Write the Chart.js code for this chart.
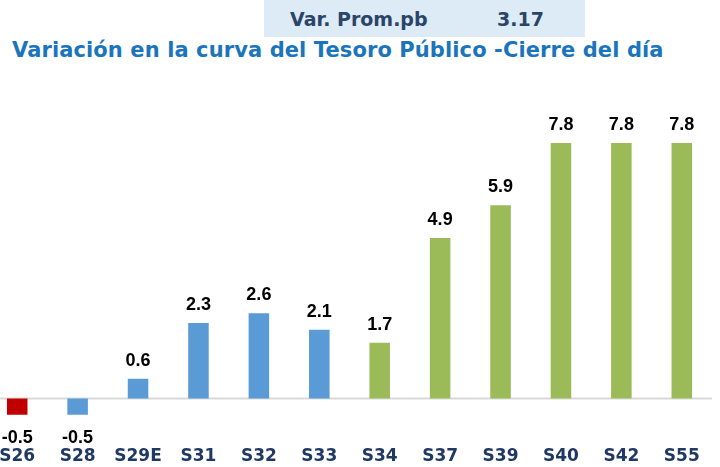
<!DOCTYPE html>
<html>
<head>
<meta charset="utf-8">
<script src="https://cdn.jsdelivr.net/npm/chart.js@4"></script>
<style>
    html, body { margin: 0; padding: 0; background: #fff; }
    body { width: 720px; height: 467px; position: relative; overflow: hidden; }
    #varBox {
        position: absolute; left: 264px; top: 0; width: 321px; height: 37px;
        background: #DDEBF7; color: #2B4568;
        font: bold 19px 'DejaVu Sans', sans-serif;
    }
    #varBox span { position: absolute; top: 8px; }
    #title {
        position: absolute; left: 12px; top: 38px; white-space: nowrap;
        color: #1B75BC; font: bold 21px 'DejaVu Sans', sans-serif; letter-spacing: 0.1px;
    }
    #wrap { position: absolute; left: -13px; top: 0; width: 725px; height: 472px; }
</style>
</head>
<body>
<div id="varBox"><span style="left:26px">Var. Prom.pb</span><span style="left:233px">3.17</span></div>
<div id="title">Variación en la curva del Tesoro Público -Cierre del día</div>
<div id="wrap"><canvas id="chart" width="725" height="472"></canvas></div>
<script>
// Variacion en pb por bono
var labels = ['S26', 'S28', 'S29E', 'S31', 'S32', 'S33', 'S34', 'S37', 'S39', 'S40', 'S42', 'S55'];
var values = [-0.5, -0.5, 0.6, 2.3, 2.6, 2.1, 1.7, 4.9, 5.9, 7.8, 7.8, 7.8];
var barColors = ['#C00000', '#5B9BD5', '#5B9BD5', '#5B9BD5', '#5B9BD5', '#5B9BD5',
                 '#9BBB59', '#9BBB59', '#9BBB59', '#9BBB59', '#9BBB59', '#9BBB59'];

// linea del cero
var zeroLine = {
    id: 'zeroLine',
    beforeDatasetsDraw: function(chart) {
        var ctx = chart.ctx;
        var y = chart.scales.y.getPixelForValue(0);
        ctx.save();
        ctx.strokeStyle = '#D9D9D9';
        ctx.lineWidth = 2;
        ctx.beginPath();
        ctx.moveTo(chart.chartArea.left, y);
        ctx.lineTo(chart.chartArea.right, y);
        ctx.stroke();
        ctx.restore();
    }
};

// etiquetas de valor
var valueLabels = {
    id: 'valueLabels',
    afterDatasetsDraw: function(chart) {
        var ctx = chart.ctx;
        var meta = chart.getDatasetMeta(0);
        ctx.save();
        ctx.fillStyle = '#000';
        ctx.font = "bold 18px 'Liberation Sans', sans-serif";
        ctx.textAlign = 'center';
        meta.data.forEach(function(bar, i) {
            var v = values[i];
            if (v >= 0) {
                ctx.textBaseline = 'alphabetic';
                ctx.fillText(v.toFixed(1), bar.x, bar.y - 13);
            } else {
                ctx.textBaseline = 'top';
                ctx.fillText(v.toFixed(1), bar.x, bar.y + 14);
            }
        });
        ctx.restore();
    }
};

new Chart(document.getElementById('chart'), {
    type: 'bar',
    data: {
        labels: labels,
        datasets: [{
            data: values,
            backgroundColor: barColors,
            borderWidth: 0,
            barPercentage: 0.34,
            categoryPercentage: 1
        }]
    },
    options: {
        responsive: false,
        animation: false,
        devicePixelRatio: 1,
        layout: { padding: { top: 71, bottom: 2, left: 0, right: 0 } },
        plugins: { legend: { display: false }, tooltip: { enabled: false } },
        scales: {
            x: {
                grid: { display: false, drawTicks: false },
                border: { display: false },
                ticks: {
                    color: '#1F3864',
                    padding: 3,
                    font: { family: "'DejaVu Sans', sans-serif", size: 17, weight: 'bold' }
                }
            },
            y: { display: false, min: -1.38, max: 10 }
        }
    },
    plugins: [zeroLine, valueLabels]
});
</script>
</body>
</html>
